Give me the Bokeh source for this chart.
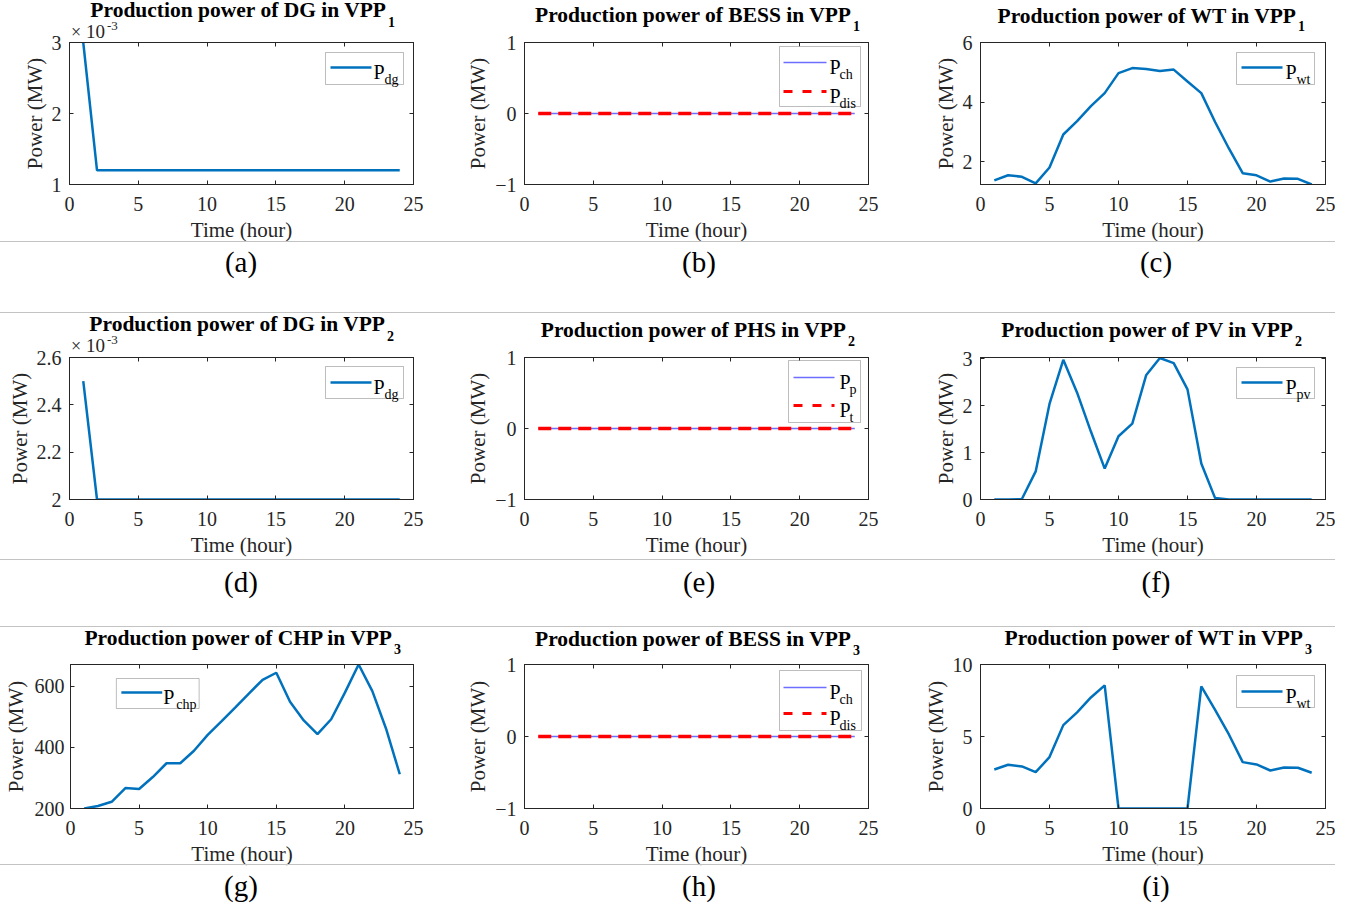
from bokeh.plotting import figure
from bokeh.models import (Range1d, FixedTicker, LinearAxis, CustomJSTickFormatter,
                          Label, BoxAnnotation, Arrow, Div, ColumnDataSource)
from bokeh.layouts import row, column
from bokeh.embed import file_html
from bokeh.resources import INLINE

# ---------------- data ----------------
hours = [1, 2, 3, 4, 5, 6, 7, 8, 9, 10, 11, 12, 13, 14, 15, 16, 17, 18, 19, 20, 21, 22, 23, 24]

dg_vpp1 = [0.0030, 0.0012, 0.0012, 0.0012, 0.0012, 0.0012, 0.0012, 0.0012, 0.0012, 0.0012, 0.0012, 0.0012,
           0.0012, 0.0012, 0.0012, 0.0012, 0.0012, 0.0012, 0.0012, 0.0012, 0.0012, 0.0012, 0.0012, 0.0012]
bess_ch_vpp1 = [0, 0, 0, 0, 0, 0, 0, 0, 0, 0, 0, 0, 0, 0, 0, 0, 0, 0, 0, 0, 0, 0, 0, 0]
bess_dis_vpp1 = [0, 0, 0, 0, 0, 0, 0, 0, 0, 0, 0, 0, 0, 0, 0, 0, 0, 0, 0, 0, 0, 0, 0, 0]
wt_vpp1 = [1.37, 1.54, 1.49, 1.27, 1.80, 2.91, 3.36, 3.86, 4.30, 4.97, 5.14, 5.11,
           5.04, 5.09, 4.69, 4.30, 3.33, 2.44, 1.61, 1.54, 1.33, 1.43, 1.42, 1.23]

dg_vpp2 = [0.0025, 0.0020, 0.0020, 0.0020, 0.0020, 0.0020, 0.0020, 0.0020, 0.0020, 0.0020, 0.0020, 0.0020,
           0.0020, 0.0020, 0.0020, 0.0020, 0.0020, 0.0020, 0.0020, 0.0020, 0.0020, 0.0020, 0.0020, 0.0020]
phs_p_vpp2 = [0, 0, 0, 0, 0, 0, 0, 0, 0, 0, 0, 0, 0, 0, 0, 0, 0, 0, 0, 0, 0, 0, 0, 0]
phs_t_vpp2 = [0, 0, 0, 0, 0, 0, 0, 0, 0, 0, 0, 0, 0, 0, 0, 0, 0, 0, 0, 0, 0, 0, 0, 0]
pv_vpp2 = [0, 0, 0.01, 0.60, 2.04, 2.98, 2.28, 1.45, 0.66, 1.35, 1.62, 2.65,
           3.02, 2.91, 2.35, 0.77, 0.03, 0, 0, 0, 0, 0, 0, 0]

chp_vpp3 = [200, 208, 222, 267, 264, 303, 348, 348, 389, 441, 485, 530,
            576, 621, 644, 549, 488, 443, 492, 579, 671, 584, 461, 312]
bess_ch_vpp3 = [0, 0, 0, 0, 0, 0, 0, 0, 0, 0, 0, 0, 0, 0, 0, 0, 0, 0, 0, 0, 0, 0, 0, 0]
bess_dis_vpp3 = [0, 0, 0, 0, 0, 0, 0, 0, 0, 0, 0, 0, 0, 0, 0, 0, 0, 0, 0, 0, 0, 0, 0, 0]
wt_vpp3 = [2.71, 3.04, 2.92, 2.52, 3.57, 5.79, 6.68, 7.71, 8.55, 0, 0, 0,
           0, 0, 0, 8.48, 6.85, 5.14, 3.22, 3.06, 2.64, 2.85, 2.83, 2.48]

x_ticks = [0, 5, 10, 15, 20, 25]
captions = ["(a)", "(b)", "(c)", "(d)", "(e)", "(f)", "(g)", "(h)", "(i)"]

# ---------------- styling / geometry ----------------
SERIF = "Liberation Serif"
AX = "#262626"
BLUE = "#0072BD"
LBLUE = "#6e6eff"
RED = "#ff0000"

SX = 6   # layout x = reference x - SX
SY = 5   # layout y = reference y - SY
TOTAL_W = 1335
T1_H = 20
EXT = [4, 4, 5]   # how far each figure row reaches below its separator line

FIG_W = [459, 455, 421]
B_L = [69, 65, 66]
B_R = [46, 46, 10]
FIG_H = [240 - (T1_H - 1) + EXT[0], 246 + EXT[1], 237 + EXT[2]]
B_T = [41 - (T1_H - 1), 44, 37]
B_B = [57 + EXT[0], 60 + EXT[1], 56 + EXT[2]]
# frame position in reference-image pixels (for placing decorations)
FL = [75, 530, 986]
FR = [419, 874, 1331]
FT = [47, 362, 669]
FB = [189, 504, 813]


def make_panel(c, r, yr, yticks, yfmt, series, legend, ystand=(8, 2)):
    x0, x1 = 0, 25
    y0, y1 = yr
    fl, fr, ft, fb = FL[c], FR[c], FT[r], FB[r]

    def X(px):
        return x0 + (px - fl) / (fr - fl) * (x1 - x0)

    def Y(py):
        return y1 - (py - ft) / (fb - ft) * (y1 - y0)

    p = figure(width=FIG_W[c], height=FIG_H[r], x_range=Range1d(x0, x1), y_range=Range1d(y0, y1),
               toolbar_location=None, output_backend="svg", title=None,
               min_border_left=B_L[c], min_border_right=B_R[c],
               min_border_top=B_T[r], min_border_bottom=B_B[r])
    p.background_fill_color = "white"
    p.border_fill_color = None
    p.outline_line_color = AX
    p.outline_line_width = 1
    p.xgrid.visible = False
    p.ygrid.visible = False

    xt = FixedTicker(ticks=x_ticks)
    yt = FixedTicker(ticks=yticks)
    for ax in (p.xaxis[0], p.yaxis[0]):
        ax.major_tick_in = 4
        ax.major_tick_out = 0
        ax.minor_tick_line_color = None
        ax.axis_line_color = AX
        ax.major_tick_line_color = AX
        ax.major_label_text_font = SERIF
        ax.major_label_text_font_size = "20px"
        ax.major_label_text_color = AX
        ax.axis_label_text_font = SERIF
        ax.axis_label_text_font_size = "21px"
        ax.axis_label_text_font_style = "normal"
        ax.axis_label_text_color = AX
    p.xaxis[0].ticker = xt
    p.yaxis[0].ticker = yt
    if yfmt is not None:
        p.yaxis[0].formatter = CustomJSTickFormatter(code=yfmt)
    p.xaxis[0].axis_label = "Time (hour)"
    p.yaxis[0].axis_label = "Power (MW)"
    p.xaxis[0].major_label_standoff = 12
    p.xaxis[0].axis_label_standoff = 4
    p.yaxis[0].major_label_standoff = ystand[0]
    p.yaxis[0].axis_label_standoff = ystand[1]

    # mirrored ticks (MATLAB box)
    for loc, tk in (("above", xt), ("right", yt)):
        ax = LinearAxis(ticker=tk, formatter=CustomJSTickFormatter(code="return ''"),
                        major_tick_in=4, major_tick_out=0, minor_tick_line_color=None,
                        axis_line_color=AX, major_tick_line_color=AX,
                        major_label_text_font_size="1px", major_label_standoff=0)
        p.add_layout(ax, loc)

    src = ColumnDataSource(dict(hour=hours, **{s["name"]: s["y"] for s in series}))
    for s in series:
        p.line(x="hour", y=s["name"], source=src, line_color=s["color"], line_width=s["width"],
               line_dash=s["dash"])

    # legend (MATLAB style)
    bl, bt, br, bb = legend["box"]
    p.add_layout(BoxAnnotation(left=X(bl), right=X(br), top=Y(bt), bottom=Y(bb),
                               fill_color="white", fill_alpha=1.0, line_color=AX, line_width=1))
    for e in legend["entries"]:
        ly, lx0, lx1, col, w, dash, px, sub, sx = e
        p.add_layout(Arrow(end=None, x_start=X(lx0), y_start=Y(ly), x_end=X(lx1), y_end=Y(ly),
                           line_color=col, line_width=w, line_dash=dash))
        p.add_layout(Label(x=X(px), y=Y(ly + 4), text="P", text_font=SERIF, text_font_size="20px",
                           text_color="black", text_baseline="alphabetic", text_align="left"))
        p.add_layout(Label(x=X(sx), y=Y(ly + 12), text=sub, text_font=SERIF, text_font_size="14px",
                           text_color="black", text_baseline="alphabetic", text_align="left"))
    return p


def one(name, y):
    return [dict(name=name, y=y, color=BLUE, width=2.5, dash="solid")]


def two(n1, y1, n2, y2):
    return [dict(name=n1, y=y1, color=LBLUE, width=1.5, dash="solid"),
            dict(name=n2, y=y2, color=RED, width=3.5, dash="13 7")]


def leg1(box, ly, x0, sub, px, sx):
    return dict(box=box, entries=[(ly, x0, x0 + 41, BLUE, 2.5, "solid", px, sub, sx)])


def leg2(box, ly1, ly2, x0, x1, s1, s2, px, sx):
    return dict(box=box, entries=[(ly1, x0, x1, LBLUE, 1.5, "solid", px, s1, sx),
                                  (ly2, x0, x1, RED, 3.0, "9 10", px, s2, sx)])


FMT_E3 = "return String(Math.round(tick*1e4)/10)"

pa = make_panel(0, 0, (0.001, 0.003), [0.001, 0.002, 0.003], FMT_E3, one("dg", dg_vpp1),
                leg1((331, 57, 409, 89), 72, 336, "dg", 379, 390))
pb = make_panel(1, 0, (-1, 1), [-1, 0, 1], None, two("ch", bess_ch_vpp1, "dis", bess_dis_vpp1),
                leg2((785, 51, 866, 111), 67, 96, 789, 832, "ch", "dis", 835, 845))
pc = make_panel(2, 0, (1.23, 6), [2, 4, 6], None, one("wt", wt_vpp1),
                leg1((1242, 57, 1320, 89), 72, 1247, "wt", 1291, 1302))

pd = make_panel(0, 1, (0.002, 0.0026), [0.002, 0.0022, 0.0024, 0.0026], FMT_E3, one("dg", dg_vpp2),
                leg1((331, 371, 409, 403), 387, 336, "dg", 379, 390))
pe = make_panel(1, 1, (-1, 1), [-1, 0, 1], None, two("p", phs_p_vpp2, "t", phs_t_vpp2),
                leg2((794, 365, 866, 427), 382, 410, 799, 840, "p", "t", 845, 855))
pf = make_panel(2, 1, (0, 3.03), [0, 1, 2, 3], None, one("pv", pv_vpp2),
                leg1((1242, 372, 1320, 403), 387, 1247, "pv", 1291, 1302))

pg = make_panel(0, 2, (200, 671), [200, 400, 600], None, one("chp", chp_vpp3),
                leg1((121, 683, 204, 713), 697, 126, "chp", 168, 181), ystand=(6, 4))
ph = make_panel(1, 2, (-1, 1), [-1, 0, 1], None, two("ch", bess_ch_vpp3, "dis", bess_dis_vpp3),
                leg2((785, 675, 867, 735), 692, 718, 789, 832, "ch", "dis", 835, 845))
pi = make_panel(2, 2, (0, 10), [0, 5, 10], None, one("wt", wt_vpp3),
                leg1((1242, 680, 1320, 712), 696, 1247, "wt", 1291, 1302))

# ---------------- titles, multipliers, captions (HTML text) ----------------
# (panel title, subscript, reference x of title's right end, main baseline, subscript baseline)
titles = [
    ("Production power of DG in VPP", "1", 392, 23, 33),
    ("Production power of BESS in VPP", "1", 857, 28, 37),
    ("Production power of WT in VPP", "1", 1302, 29, 37),
    ("Production power of DG in VPP", "2", 391, 337, 347),
    ("Production power of PHS in VPP", "2", 852, 343, 352),
    ("Production power of PV in VPP", "2", 1299, 343, 352),
    ("Production power of CHP in VPP", "3", 398, 651, 660),
    ("Production power of BESS in VPP", "3", 857, 652, 661),
    ("Production power of WT in VPP", "3", 1309, 651, 660),
]
multipliers = [(43, 35), (357, 349)]   # baselines of "×10" and "-3" for panels (a) and (d)
caption_x = [247, 705, 1162]
caption_base = [277, 597, 901]


def txt(x, base, s, size, top0, bold=False, align="left", color="#000"):
    lx = x - SX
    top = base - top0 - 0.8375 * size
    if align == "right":
        pos = "left:%.1fpx;width:700px;text-align:right;" % (lx - 700)
    elif align == "center":
        pos = "left:%.1fpx;width:200px;text-align:center;" % (lx - 100)
    else:
        pos = "left:%.1fpx;" % lx
    return ('<div style="position:absolute;%stop:%.1fpx;font-size:%spx;line-height:%spx;'
            'font-weight:%s;color:%s;white-space:nowrap;">%s</div>'
            % (pos, top, size, size, "bold" if bold else "normal", color, s))


def band_div(height, top_ref, lines_ref, items):
    h = ('<div style="position:relative;display:block;vertical-align:top;width:%dpx;height:%dpx;'
         'overflow:visible;font-family:\'Liberation Serif\',\'Times New Roman\',serif;">'
         % (TOTAL_W, height))
    for y in lines_ref:
        h += ('<div style="position:absolute;left:0;top:%dpx;width:%dpx;height:1px;'
              'background:#c3c3c3;"></div>' % (y - top_ref, TOTAL_W))
    for it in items:
        h += txt(*it[:4], top_ref, **it[4])
    h += '</div>'
    return Div(text=h, width=TOTAL_W, height=height, margin=0, styles={"overflow": "visible"})


def title_items(k):
    main, sub, anchor, b, sb = titles[k]
    return [(anchor, b, main, 21.5, dict(bold=True, align="right")),
            (anchor + 2, sb, sub, 14, dict(bold=True))]


def mult_items(k):
    eb, sb = multipliers[k]
    return [(77, eb, "×", 18, dict(color=AX)), (92, eb, "10", 19, dict(color=AX)),
            (113, sb, "-3", 13, dict(color=AX))]


def cap_items(rw):
    return [(caption_x[i], caption_base[rw], captions[3 * rw + i], 29, dict(align="center"))
            for i in range(3)]


t1_items = title_items(0) + title_items(1) + title_items(2) + mult_items(0)
c1_items = cap_items(0) + title_items(3) + title_items(4) + title_items(5) + mult_items(1)
c2_items = cap_items(1) + title_items(6) + title_items(7) + title_items(8)
c3_items = cap_items(2)

t1 = band_div(T1_H, SY, [], t1_items)
c1 = band_div(72 - EXT[0], 246 + EXT[0], [246, 317], c1_items)
c2 = band_div(68 - EXT[1], 564 + EXT[1], [564, 631], c2_items)
c3 = band_div(38 - EXT[2], 869 + EXT[2], [869], c3_items)

layout = column(t1, row(pa, pb, pc), c1, row(pd, pe, pf), c2, row(pg, ph, pi), c3)

open("out.html", "w").write(file_html(layout, INLINE))
